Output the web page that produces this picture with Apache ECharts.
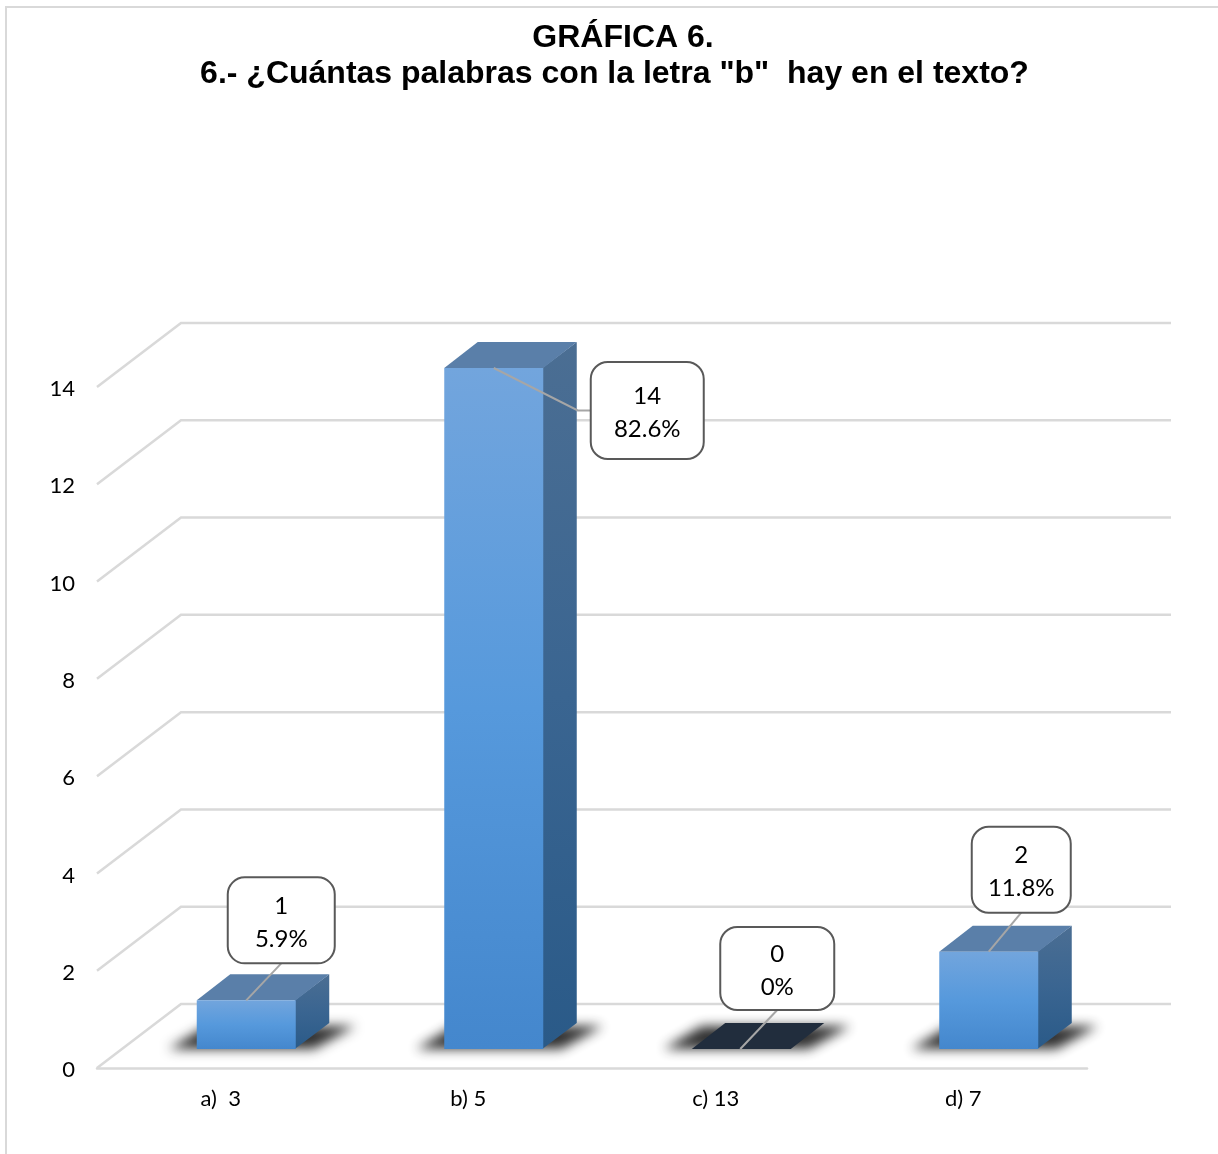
<!DOCTYPE html>
<html>
<head>
<meta charset="utf-8">
<style>html,body{margin:0;padding:0;background:#fff}#c{width:1218px;height:1154px}</style>
<script src="https://cdn.jsdelivr.net/npm/echarts@6/dist/echarts.min.js"></script>
</head>
<body>
<div id="c"></div>
<script>
const titleLines = ['GRÁFICA 6.', '6.- ¿Cuántas palabras con la letra "b"  hay en el texto?'];
const categories = ['a)  3', 'b) 5', 'c) 13', 'd) 7'];
const counts = [1, 14, 0, 2];
const percents = ['5.9%', '82.6%', '0%', '11.8%'];
const ticks = [0, 2, 4, 6, 8, 10, 12, 14];

// presentation only
const WALL = [84, -64], FLOOR = [25.5, -19], DEPTH = [33.5, -26];
const OFF = 3000;
const calloutBoxes = [
  {dx: 35, dy: -80, w: 107, h: 86},
  {dx: 153.5, dy: 42.5, w: 113, h: 97},
  {dx: 37, dy: -80.5, w: 114, h: 83},
  {dx: 32.5, dy: -82, w: 99, h: 86}
];
const LABEL_FONT = 'Lato, "Open Sans", sans-serif';
const grad = (a, b, c) => ({type: 'linear', x: 0, y: 0, x2: 0, y2: 1, colorStops: [
  {offset: 0, color: a}, {offset: 0.5, color: b}, {offset: 1, color: c}]});
const poly = (points, style, z2) => ({type: 'polygon', shape: {points}, style, z2: z2 || 0});

function renderWall(params, api) {
  const cs = params.coordSys;
  const y = api.coord([0, api.value(0)])[1];
  const x0 = cs.x, x1 = cs.x + cs.width;
  const bend = [x0 + WALL[0], y + WALL[1]];
  const end = [x1 + WALL[0], y + WALL[1]];
  return {type: 'polyline', shape: {points: [[x0, y], bend, end]},
    style: {fill: null, stroke: '#d9d9d9', lineWidth: 2.5}};
}

function renderBar(params, api) {
  const i = api.value(0), v = api.value(1);
  const w = api.size([1, 0])[0] * 0.4;
  const base = api.coord([i, 0]), topPt = api.coord([i, v]);
  const xl = base[0] + FLOOR[0] - w / 2, xr = xl + w;
  const yb = base[1] + FLOOR[1], yt = topPt[1] + FLOOR[1];
  const dx = DEPTH[0], dy = DEPTH[1];
  const kids = [];
  // soft cast shadow: only the blurred shadow of an off-canvas polygon lands on the chart
  kids.push(poly(
    [[xl - 28 - OFF, yb], [xl + 10 - OFF, yb + dy + 3], [xr + dx + 26 - OFF, yb + dy + 3], [xr + 18 - OFF, yb]],
    {fill: '#000', shadowBlur: 12, shadowColor: 'rgba(25,25,25,0.9)', shadowOffsetX: OFF}));
  if (v === 0) {
    kids.push(poly([[xl, yb], [xl + dx, yb + dy], [xr + dx, yb + dy], [xr, yb]], {fill: '#212d3d'}));
  } else {
    kids.push(poly([[xr - 1, yt], [xr + dx, yt + dy], [xr + dx, yb + dy], [xr - 1, yb]],
      {fill: grad('#4b6e93', '#3a6591', '#2a5a88')}));
    kids.push(poly([[xl, yt], [xl + dx, yt + dy], [xr + dx, yt + dy], [xr, yt]], {fill: '#5a7fa9'}));
    kids.push({type: 'rect', shape: {x: xl, y: yt, width: w, height: yb - yt},
      style: {fill: grad('#72a5dd', '#5699dc', '#4487cd')}});
  }
  return {type: 'group', children: kids};
}

function renderCallout(params, api) {
  const i = api.value(0), v = api.value(1);
  const base = api.coord([i, 0]), topPt = api.coord([i, v]);
  const ax = base[0] + FLOOR[0] - (v === 0 ? 1 : 0), ay = topPt[1] + FLOOR[1];
  const b = calloutBoxes[i];
  const cx = ax + b.dx, cy = ay + b.dy;
  const left = cx - b.w / 2, top = cy - b.h / 2;
  const sideways = b.dy > 0;
  const pts = sideways
    ? [[ax, ay], [left - 13, cy], [left, cy]]
    : [[ax, ay], [cx, top + b.h]];
  return {type: 'group', children: [
    {type: 'polyline', shape: {points: pts}, z2: 1,
      style: {fill: null, stroke: '#a6a6a6', lineWidth: 2}},
    {type: 'rect', shape: {x: left, y: top, width: b.w, height: b.h, r: 17}, z2: 2,
      style: {fill: '#fff', stroke: '#595959', lineWidth: 2}},
    {type: 'text', x: cx, y: cy + 2, z2: 3,
      style: {text: api.value(1) + '\n' + percents[i], align: 'center', verticalAlign: 'middle',
        font: '24px ' + LABEL_FONT, lineHeight: 33, fill: '#000'}}
  ]};
}

const chart = echarts.init(document.getElementById('c'), null, {renderer: 'canvas'});
chart.setOption({
  animation: false,
  backgroundColor: '#fff',
  title: [
    {text: titleLines[0], left: 618, top: 17, textAlign: 'center',
      textStyle: {fontFamily: '"Liberation Sans"', fontWeight: 'bold', fontSize: 32, color: '#000'}},
    {text: titleLines[1], left: 609.5, top: 53, textAlign: 'center',
      textStyle: {fontFamily: '"Liberation Sans"', fontWeight: 'bold', fontSize: 32, color: '#000'}}
  ],
  graphic: [
    {type: 'polyline', silent: true, shape: {points: [[6, 1154], [6, 7], [1218, 7]]},
      style: {fill: null, stroke: '#d9d9d9', lineWidth: 2}}
  ],
  grid: {left: 97, right: 131, top: 387, bottom: 86},
  xAxis: {
    type: 'category', data: categories,
    axisLine: {show: true, lineStyle: {color: '#d9d9d9', width: 2.5}},
    axisTick: {show: false},
    axisLabel: {color: '#000', fontFamily: LABEL_FONT, fontSize: 22, margin: 20}
  },
  yAxis: {
    type: 'value', min: 0, max: 14, interval: 2,
    axisLine: {show: false}, axisTick: {show: false}, splitLine: {show: false},
    axisLabel: {color: '#000', fontFamily: LABEL_FONT, fontSize: 22, margin: 22, verticalAlign: 'top', lineHeight: 4}
  },
  series: [
    {type: 'custom', name: 'wall', coordinateSystem: 'cartesian2d', silent: true, z: 1,
      clip: false, renderItem: renderWall, data: ticks.map(t => [t]), encode: {y: 0}},
    {type: 'custom', name: 'bars', coordinateSystem: 'cartesian2d', z: 2,
      clip: false, renderItem: renderBar, data: counts.map((v, i) => [i, v]), encode: {x: 0, y: 1}},
    {type: 'custom', name: 'callouts', coordinateSystem: 'cartesian2d', z: 3,
      clip: false, renderItem: renderCallout, data: counts.map((v, i) => [i, v]), encode: {x: 0, y: 1}}
  ]
});
</script>
</body>
</html>
